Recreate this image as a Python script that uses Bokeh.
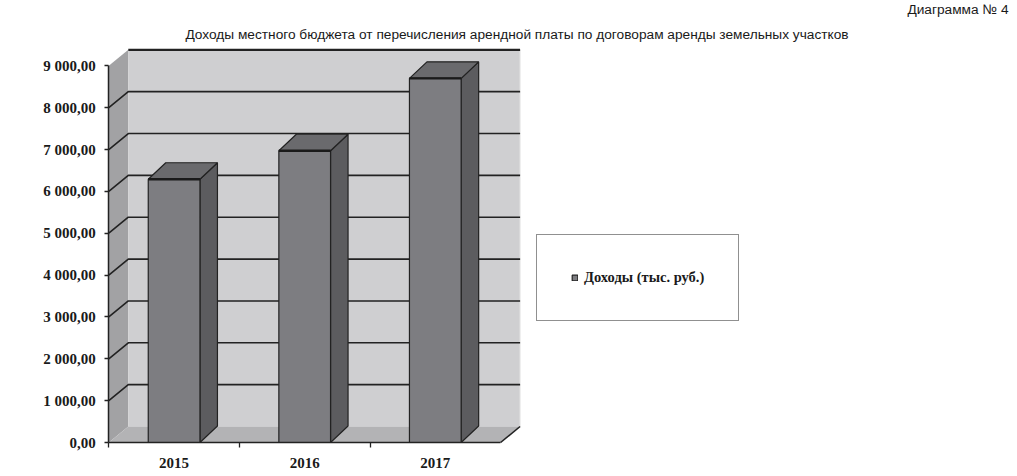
import numpy as np
from bokeh.plotting import figure
from bokeh.models import FixedTicker, Range1d, Label, Legend, LegendItem, LinearAxis
from bokeh.embed import file_html
from bokeh.resources import INLINE

# ---------------- data ----------------
categories = ["2015", "2016", "2017"]
revenue = [6290, 6970, 8700]
y_ticks = [0, 1000, 2000, 3000, 4000, 5000, 6000, 7000, 8000, 9000]
y_tick_labels = ["0,00", "1 000,00", "2 000,00", "3 000,00", "4 000,00",
                 "5 000,00", "6 000,00", "7 000,00", "8 000,00", "9 000,00"]
series_name = "Доходы (тыс. руб.)"
title_text = "Доходы местного бюджета от перечисления арендной платы по договорам аренды земельных участков"
diagram_text = "Диаграмма № 4"

# ---------------- geometry / style ----------------
W, H = 1010, 472
X0_PX, Y0_PX = 108.3, 442.0   # position of (0, 0) on the canvas
PX_CAT = 130.6                # px per category
n = len(categories)
ymax = y_ticks[-1]
PX_UNIT = 376.7 / ymax        # px per value unit
DXW = 19.5 / PX_CAT
DYW = 16.0 / PX_UNIT
DXB = 17.5 / PX_CAT
DYB = 16.5 / PX_UNIT
BW = 51.7 / PX_CAT

x_start = -X0_PX / PX_CAT
x_end = (W - X0_PX) / PX_CAT
y_start = -(H - Y0_PX) / PX_UNIT
y_end = Y0_PX / PX_UNIT

DARK = "#222222"
BACK = "#cfcfd1"
LEFTW = "#a2a2a4"
FLOOR = "#b3b3b5"
BAR_FRONT = "#7d7d81"
BAR_SIDE = "#5c5c5f"
BAR_TOP = "#6a6a6d"

p = figure(width=W, height=H,
           x_range=Range1d(x_start, x_end), y_range=Range1d(y_start, y_end),
           x_axis_location=None, y_axis_location=None,
           output_backend="svg", toolbar_location=None,
           min_border=0)
p.grid.visible = False
p.outline_line_color = None
p.background_fill_color = "white"
p.border_fill_color = "white"

# walls and floor
p.patch([0, DXW, DXW, 0], [0, DYW, ymax + DYW, ymax], fill_color=LEFTW, line_color=None)
p.patch([DXW, n + DXW, n + DXW, DXW], [DYW, DYW, ymax + DYW, ymax + DYW], fill_color=BACK, line_color=None)
p.patch([0, n, n + DXW, DXW], [0, 0, DYW, DYW], fill_color=FLOOR, line_color=None)
p.segment(x0=[n + DXW], y0=[DYW], x1=[n + DXW], y1=[ymax + DYW], line_color="#e8e8e8", line_width=1)
p.segment(x0=[n], y0=[0], x1=[n + DXW], y1=[DYW], line_color=DARK, line_width=1.6)

# gridlines
gx, gy = [], []
for v in y_ticks[1:-1]:
    gx.append([0, DXW, n + DXW])
    gy.append([v, v + DYW, v + DYW])
p.multi_line(gx, gy, line_color=DARK, line_width=1.6)
p.segment(x0=[DXW], y0=[ymax + DYW], x1=[n + DXW], y1=[ymax + DYW], line_color=DARK, line_width=2.2)

# bars
centers = np.arange(n) + 0.5
vals = np.array(revenue, dtype=float)
L = centers - BW / 2
R = centers + BW / 2
front_xs = [[l, r, r, l] for l, r in zip(L, R)]
front_ys = [[0, 0, v, v] for v in vals]
side_xs = [[r, r + DXB, r + DXB, r] for r in R]
side_ys = [[0, DYB, v + DYB, v] for v in vals]
top_xs = [[l, r, r + DXB, l + DXB] for l, r in zip(L, R)]
top_ys = [[v, v, v + DYB, v + DYB] for v in vals]

p.patches(side_xs, side_ys, fill_color=BAR_SIDE, line_color=DARK, line_width=1.2)
p.patches(top_xs, top_ys, fill_color=BAR_TOP, line_color=DARK, line_width=1.2)
front = p.patches(front_xs, front_ys, fill_color=BAR_FRONT, line_color=DARK, line_width=1.2)
p.segment(x0=L, y0=vals, x1=R, y1=vals, line_color="#1a1a1a", line_width=2.4)

# y axis (placed at x = 0)
yax = LinearAxis(fixed_location=0)
yax.ticker = FixedTicker(ticks=y_ticks, minor_ticks=[])
yax.major_label_overrides = {v: s for v, s in zip(y_ticks, y_tick_labels)}
yax.bounds = (0, ymax)
yax.axis_line_color = DARK
yax.axis_line_width = 1.5
yax.major_tick_line_color = DARK
yax.major_tick_line_width = 1.3
yax.major_tick_in = 0
yax.major_tick_out = 4
yax.minor_tick_line_color = None
yax.major_label_standoff = 9
yax.major_label_text_font = "Liberation Serif"
yax.major_label_text_font_style = "bold"
yax.major_label_text_font_size = "15px"
yax.major_label_text_color = "#1a1a1a"
p.add_layout(yax, "left")

# x axis (placed at y = 0)
xax = LinearAxis(fixed_location=0)
xax.ticker = FixedTicker(ticks=list(centers), minor_ticks=list(range(n)))
xax.major_label_overrides = {float(c): s for c, s in zip(centers, categories)}
xax.bounds = (0, n)
xax.axis_line_color = DARK
xax.axis_line_width = 1.5
xax.major_tick_line_color = None
xax.major_tick_in = 0
xax.major_tick_out = 0
xax.minor_tick_line_color = DARK
xax.minor_tick_line_width = 1.3
xax.minor_tick_in = 0
xax.minor_tick_out = 5
xax.major_label_standoff = 10
xax.major_label_text_font = "Liberation Serif"
xax.major_label_text_font_style = "bold"
xax.major_label_text_font_size = "15px"
xax.major_label_text_color = "#1a1a1a"
p.add_layout(xax, "below")

# legend
legend = Legend(items=[LegendItem(label=series_name, renderers=[front])],
                location=(536, H - 321))
legend.padding = 34
legend.margin = 0
legend.label_standoff = 6
legend.glyph_width = 7
legend.glyph_height = 7
legend.label_height = 14
legend.label_text_font = "Liberation Serif"
legend.label_text_font_style = "bold"
legend.label_text_font_size = "14.5px"
legend.label_text_color = "#1a1a1a"
legend.border_line_color = DARK
legend.border_line_width = 1
legend.background_fill_color = "white"
legend.background_fill_alpha = 1
p.add_layout(legend, "center")

# titles
p.add_layout(Label(x=516.5, y=H - 34, x_units="screen", y_units="screen", text=title_text,
                   text_align="center", text_baseline="middle",
                   text_font="Liberation Sans", text_font_size="13.7px", text_color="#1a1a1a"))
p.add_layout(Label(x=1008, y=H - 9, x_units="screen", y_units="screen", text=diagram_text,
                   text_align="right", text_baseline="middle",
                   text_font="Liberation Sans", text_font_size="13.7px", text_color="#1a1a1a"))

open("out.html", "w").write(file_html(p, INLINE))
